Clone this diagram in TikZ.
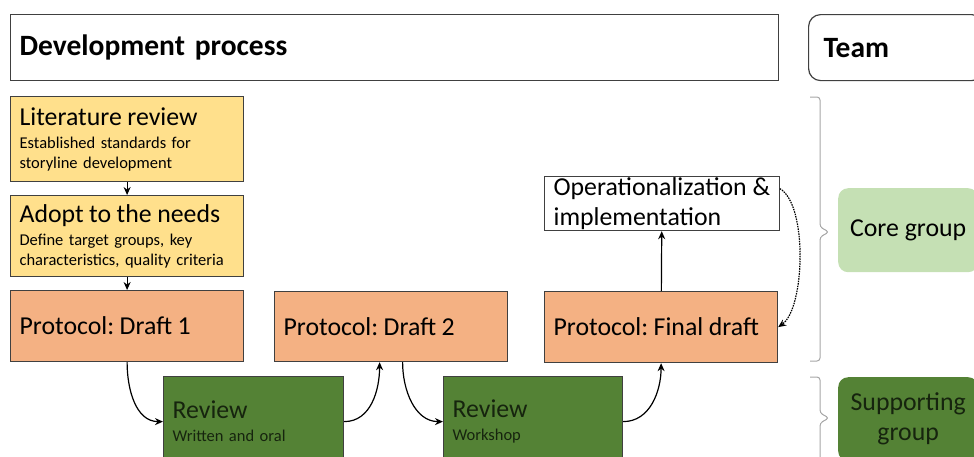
\documentclass[tikz,border=0pt]{standalone}
\usepackage{fontspec}
\setmainfont{Carlito}
\usetikzlibrary{arrows.meta}
\frenchspacing

\definecolor{boxline}{HTML}{404040}
\definecolor{litfill}{HTML}{FFE08C}
\definecolor{protofill}{HTML}{F4B183}
\definecolor{revfill}{HTML}{548235}
\definecolor{corefill}{HTML}{C5E0B4}
\definecolor{bracegray}{HTML}{A6A6A6}
\definecolor{darktext}{HTML}{16240E}

\newcommand{\boxtitle}[1]{{\fontsize{25.8}{26}\selectfont #1}}

\tikzset{
  box/.style={draw=boxline, line width=1.2pt, anchor=north west, inner xsep=9pt, inner ysep=0pt, align=left,
    font=\fontsize{16.5}{20}\selectfont},
  head/.style={box, text width=#1, font=\fontsize{29.5}{34}\selectfont\bfseries, minimum height=66pt},
  flow/.style={-{Stealth[length=8pt,width=7pt]}, line width=1.2pt},
  team/.style={anchor=north west, rounded corners=10pt, minimum width=140pt, minimum height=84pt, align=center,
    font=\fontsize{25.8}{30}\selectfont},
  bracket/.style={draw=bracegray, line width=1pt, rounded corners=3pt}
}

\begin{document}
\begin{tikzpicture}[x=1pt, y=1pt]
  \useasboundingbox (0,0) rectangle (974,-456);
  \clip (0,0) rectangle (974,-456);

  % headings
  \node[head=750pt] (dev) at (10,-14) {Development process};
  \node[head=145pt, inner xsep=15pt, rounded corners=12pt] (teamhead) at (808,-14) {Team};

  % left column
  \node[box, fill=litfill, text width=215pt, minimum height=85pt] (litrev) at (10,-96)
    {\boxtitle{Literature review}\\[3pt]Established standards for\\storyline development};
  \node[box, fill=litfill, text width=215pt, minimum height=81pt] (adopt) at (10,-195)
    {\boxtitle{Adopt to the needs}\\[3pt]Define target groups, key\\characteristics, quality criteria};

  % protocol drafts
  \node[box, fill=protofill, text width=215pt, minimum height=71pt] (draft1) at (10,-290) {\boxtitle{Protocol: Draft 1}};
  \node[box, fill=protofill, text width=215pt, minimum height=70pt] (draft2) at (274,-291) {\boxtitle{Protocol: Draft 2}};
  \node[box, fill=protofill, text width=215pt, minimum height=71pt] (final) at (544,-291) {\boxtitle{Protocol: Final draft}};
  \node[box, fill=white, minimum width=233pt, minimum height=54pt, font=\fontsize{25.8}{30}\selectfont] (op) at (544,-176)
    {Operationalization \&\\implementation};

  % reviews
  \node[box, fill=revfill, text=darktext, text width=162pt, minimum height=90pt] (rev1) at (163,-376)
    {\boxtitle{Review}\\[3pt]Written and oral};
  \node[box, fill=revfill, text=darktext, text width=161pt, minimum height=90pt] (rev2) at (443,-376)
    {\boxtitle{Review}\\[3pt]Workshop};

  % team
  \node[team, fill=corefill] (core) at (838,-188) {Core group};
  \node[team, fill=revfill, text=darktext] (supp) at (838,-377) {Supporting\\group};

  \draw[bracket] (810,-97) -- (820,-97) -- (820,-227) -- (829,-232) -- (820,-237) -- (820,-361) -- (810,-361);
  \draw[bracket] (810,-377) -- (820,-377) -- (820,-413) -- (829,-418) -- (820,-423) -- (820,-470);

  % connectors
  \draw[flow] (litrev) -- (adopt);
  \draw[flow] (adopt) -- (draft1);
  \draw[flow] (draft1.south) to[out=-90, in=180] (rev1.west);
  \draw[flow] (rev1.east) to[out=0, in=-90] ([xshift=-11.5pt]draft2.south);
  \draw[flow] ([xshift=11.5pt]draft2.south) to[out=-90, in=180] (rev2.west);
  \draw[flow] (rev2.east) to[out=0, in=-90] (final.south);
  \draw[flow] (final) -- (op);
  \draw[flow, dash pattern=on 1.5pt off 1pt] ([yshift=15pt]op.east) to[out=-30, in=35, looseness=0.6] (final.east);
\end{tikzpicture}
\end{document}
